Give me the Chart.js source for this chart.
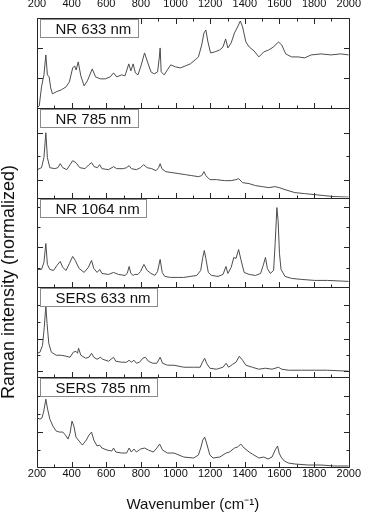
<!DOCTYPE html>
<html><head><meta charset="utf-8">
<script src="https://cdn.jsdelivr.net/npm/chart.js@4.4.1/dist/chart.umd.min.js"></script>
<style>html,body{margin:0;padding:0;background:#fff}canvas{display:block}</style>
</head><body>
<canvas id="c" width="368" height="514"></canvas>
<script>
// ---- data (wavenumber in cm^-1, intensity in normalized a.u., 0-90 per panel) ----
const panelLabels = ['NR 633 nm', 'NR 785 nm', 'NR 1064 nm', 'SERS 633 nm', 'SERS 785 nm'];
const xTickLabels = [200, 400, 600, 800, 1000, 1200, 1400, 1600, 1800, 2000];
const xMinorTicks = [300, 500, 700, 900, 1100, 1300, 1500, 1700, 1900];

const nr633Wn = [200,213,226,240,251,260,270,279,289,311,340,368,387,406,417,426,438,453,472,491,519,538,566,594,623,642,660,689,708,730,742,755,768,783,802,821,840,858,877,896,906,911,917,934,953,972,1000,1028,1057,1085,1113,1132,1151,1164,1175,1187,1202,1226,1255,1274,1289,1302,1321,1340,1358,1374,1387,1406,1425,1453,1481,1509,1538,1566,1594,1613,1636,1670,1708,1745,1783,1840,1896,1953,2000];
const nr633I  = [0,2,21,33,53,33,31,20,14,16,18,21,26,40,42,38,46,32,22,27,39,31,29,29,31,35,31,33,32,44,37,44,35,33,43,55,45,36,34,36,50,60,36,33,38,43,41,40,42,44,48,51,63,75,78,66,55,56,58,61,69,60,65,75,81,87,81,66,61,57,51,56,58,61,66,63,54,51,51,50,53,54,53,54,53];

const nr785Wn = [202,226,240,251,260,274,302,321,334,349,372,391,406,425,447,477,500,515,530,549,562,575,613,642,660,698,717,732,745,774,798,815,836,862,887,902,911,921,943,981,1019,1057,1094,1132,1151,1164,1175,1198,1236,1283,1321,1349,1364,1387,1425,1462,1500,1538,1575,1598,1632,1689,1745,1802,1858,1915,2000];
const nr785I  = [28,30,40,65,40,30,29,30,34,30,28,33,37,35,30,29,33,35,31,30,33,29,28,31,29,29,30,32,29,28,30,33,30,29,27,30,34,29,26,25,24,23,22,21,22,26,22,18,18,17,17,18,19,15,14,12,11,10,11,10,8,5,4,3,2,1,0.5];

const nr1064Wn = [202,226,240,251,260,274,296,315,334,349,368,387,406,421,443,472,496,515,528,547,562,575,613,642,670,708,721,732,742,755,764,783,798,817,836,858,881,896,911,923,938,972,1009,1047,1085,1123,1145,1157,1166,1175,1189,1208,1245,1274,1291,1302,1321,1336,1349,1364,1377,1396,1425,1462,1491,1506,1519,1530,1547,1566,1575,1585,1592,1600,1609,1632,1670,1726,1802,1877,2000];
const nr1064I  = [18,18,25,44,23,18,17,22,26,20,17,24,31,27,19,15,20,27,19,15,18,14,13,15,13,12,14,21,14,12,13,13,16,23,17,14,12,16,28,15,11,10,10,10,11,12,17,30,37,29,15,12,11,13,21,14,20,30,29,38,28,15,13,12,14,22,30,19,14,17,44,80,67,34,18,11,9,8,7,7,6];

const sers633Wn = [202,217,232,242,251,258,268,283,311,340,368,391,409,425,434,440,453,481,500,515,528,547,566,579,613,642,655,689,717,732,745,760,774,792,811,826,843,868,892,911,925,953,991,1047,1104,1142,1155,1168,1179,1198,1236,1274,1292,1306,1330,1349,1368,1387,1406,1443,1481,1519,1557,1594,1613,1651,1726,1802,1877,2000];
const sers633I  = [24,25,32,50,72,54,34,25,22,22,21,20,25,26,24,29,22,19,20,24,20,18,20,18,16,20,16,15,15,17,15,17,14,15,19,20,16,14,14,20,14,12,12,10,10,10,15,19,14,9,8,10,14,10,13,15,21,17,12,10,8,9,8,10,8,7,7,7,7,6];

const sers785Wn = [202,217,228,238,251,260,274,292,311,330,349,364,379,391,402,413,425,443,462,485,500,515,528,547,562,575,604,632,642,655,689,717,732,745,760,774,798,821,843,872,892,908,925,953,991,1047,1104,1132,1147,1157,1168,1179,1198,1217,1255,1292,1311,1340,1358,1377,1396,1425,1443,1481,1509,1534,1557,1575,1589,1598,1609,1628,1651,1689,1764,1840,1915,2000];
const sers785I  = [49,48,49,55,68,59,48,41,36,35,35,32,28,34,46,41,30,26,22,27,32,35,27,21,22,19,17,16,19,15,14,14,19,15,18,15,18,19,17,15,19,23,17,14,14,10,9,12,20,27,30,24,12,9,10,14,15,19,20,23,19,15,13,9,10,8,10,17,21,14,10,6,4,3,2,2,1,1];

// y tick positions (unlabelled) per panel
const yMajorTicks = [[30, 60], [17.7, 65], [40, 81], [6, 38.7, 72], [35, 71]];
const yMinorTicks = [[], [41.3], [19.3, 60.3], [22, 55.3], [17, 53]];

const xTitle = 'Wavenumber (cm\u207B\u00B9)';
const yTitle = 'Raman intensity (normalized)';

// ---- chart ----
const series = [[nr633Wn, nr633I], [nr785Wn, nr785I], [nr1064Wn, nr1064I], [sers633Wn, sers633I], [sers785Wn, sers785I]];
const panelIds = ['y1', 'y2', 'y3', 'y4', 'y5'];
const FONT = "'Liberation Sans', Arial, Helvetica, sans-serif";

const datasets = series.map((s, i) => ({
  label: panelLabels[i],
  data: s[0].map((x, j) => ({x: x, y: s[1][j]})),
  yAxisID: panelIds[i],
  borderColor: '#4d4d4d',
  borderWidth: 1,
  pointRadius: 0,
  tension: 0,
  fill: false
}));

const tickFmt = v => String(v);
const scales = {
  x: {
    type: 'linear', position: 'bottom', min: 200, max: 2000,
    grid: {display: false, drawTicks: false, tickLength: 0}, border: {display: false},
    afterBuildTicks: s => { s.ticks = xTickLabels.map(v => ({value: v})); },
    ticks: {font: {family: FONT, size: 11}, color: '#111', padding: 0, maxRotation: 0, autoSkip: false, callback: tickFmt},
    title: {display: true, text: xTitle, font: {family: FONT, size: 15}, color: '#111', padding: {top: 0, bottom: 0}},
    afterFit: s => { s.height = 47; }
  },
  x2: {
    type: 'linear', position: 'top', min: 200, max: 2000,
    grid: {display: false, drawTicks: false, tickLength: 0}, border: {display: false},
    afterBuildTicks: s => { s.ticks = xTickLabels.map(v => ({value: v})); },
    ticks: {font: {family: FONT, size: 11}, color: '#111', padding: 7, maxRotation: 0, autoSkip: false, callback: tickFmt},
    afterFit: s => { s.height = 18; }
  }
};
panelIds.forEach((id, i) => {
  scales[id] = {
    type: 'linear', position: 'left', stack: 'panels', stackWeight: 1, weight: 5 - i,
    min: 0, max: 90, display: false
  };
});

const framePlugin = {
  id: 'frame',
  afterDatasetsDraw(chart) {
    const {ctx, chartArea: a} = chart;
    const xs = chart.scales.x;
    const L = Math.round(a.left) + 0.5, R = Math.round(a.right) + 0.5;
    ctx.save();
    ctx.strokeStyle = '#262626';
    ctx.lineWidth = 1;
    panelIds.forEach((id, i) => {
      const s = chart.scales[id];
      const top = Math.round(s.top) + 0.5, bot = Math.round(s.bottom) + 0.5;
      ctx.beginPath();
      ctx.rect(L, top, R - L, bot - top);
      const xt = (vals, len) => vals.forEach(v => {
        const px = Math.round(xs.getPixelForValue(v)) + 0.5;
        ctx.moveTo(px, bot); ctx.lineTo(px, bot - len);
        if (i === 0) { ctx.moveTo(px, top); ctx.lineTo(px, top + len); }
      });
      xt(xTickLabels, 5.5);
      xt(xMinorTicks, 3);
      const yt = (vals, len) => vals.forEach(v => {
        const py = Math.round(s.getPixelForValue(v)) + 0.5;
        ctx.moveTo(L, py); ctx.lineTo(L + len, py);
        ctx.moveTo(R, py); ctx.lineTo(R - len, py);
      });
      yt(yMajorTicks[i], 5.5);
      yt(yMinorTicks[i], 3);
      ctx.stroke();
    });
    // label boxes
    ctx.font = '15px ' + FONT;
    panelIds.forEach((id, i) => {
      const s = chart.scales[id];
      const bx = Math.round(a.left) + 3.5, by = Math.round(s.top) + 1.5;
      const tw = ctx.measureText(panelLabels[i]).width;
      const bw = Math.round(15 + tw + 7), bh = 18;
      ctx.fillStyle = '#fff';
      ctx.fillRect(bx, by, bw, bh);
      ctx.strokeStyle = '#8a8a8a';
      ctx.strokeRect(bx, by, bw, bh);
      ctx.fillStyle = '#111';
      ctx.textAlign = 'left';
      ctx.textBaseline = 'alphabetic';
      ctx.fillText(panelLabels[i], bx + 15, by + 14.5);
    });
    // y-axis title
    ctx.save();
    ctx.translate(9, 282);
    ctx.rotate(-Math.PI / 2);
    ctx.font = '18px ' + FONT;
    ctx.fillStyle = '#111';
    ctx.textAlign = 'center';
    ctx.textBaseline = 'middle';
    ctx.fillText(yTitle, 0, 0);
    ctx.restore();
    ctx.restore();
  }
};

new Chart(document.getElementById('c'), {
  type: 'line',
  data: {datasets},
  options: {
    responsive: false,
    animation: false,
    devicePixelRatio: 1,
    parsing: true,
    layout: {padding: {left: 37, right: 13, top: 0, bottom: 0}},
    plugins: {legend: {display: false}, tooltip: {enabled: false}},
    scales
  },
  plugins: [framePlugin]
});
</script>
</body></html>
